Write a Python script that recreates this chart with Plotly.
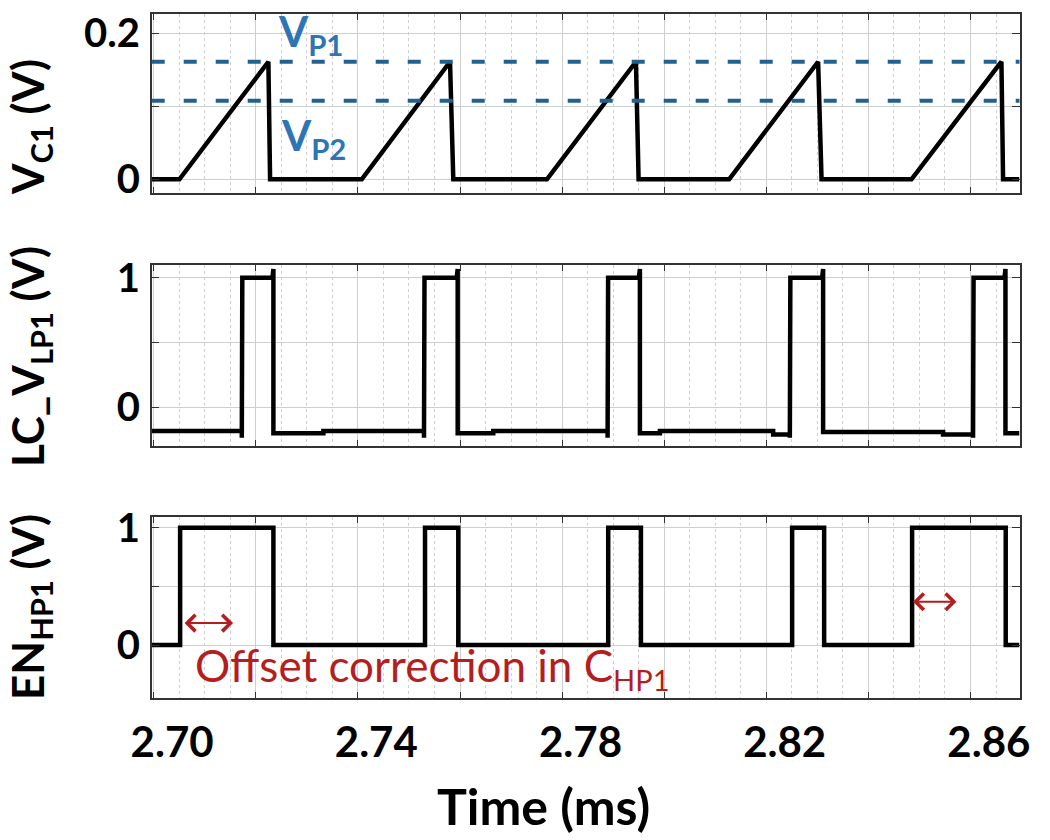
import plotly.graph_objects as go

# ---------------- data ----------------
X_RANGE = [2.6960, 2.8660]                      # ms
TIME_TICKS = [2.70, 2.74, 2.78, 2.82, 2.86]
TIME_TICK_TEXT = ["2.70", "2.74", "2.78", "2.82", "2.86"]
GRID_START = 2.7164
GRID_STEP = 0.02
MINOR_STEP = 0.005

# V_C1 (V) - sawtooth
vc1_t = [2.6960, 2.70143, 2.71886, 2.71919, 2.73715, 2.75444, 2.75508, 2.77343,
         2.79086, 2.79138, 2.80912, 2.82655, 2.82722, 2.84484, 2.86246, 2.86278, 2.8660]
vc1_v = [0, 0, 0.161, 0, 0, 0.161, 0, 0,
         0.161, 0, 0, 0.161, 0, 0, 0.161, 0, 0]
VP1 = 0.161
VP2 = 0.1077

# LC_V_LP1 (V)
lc_t = [2.6960, 2.71365, 2.71365, 2.71375, 2.71965, 2.71984, 2.71984, 2.72963, 2.72963,
        2.74934, 2.74934, 2.74944, 2.75575, 2.75594, 2.75594, 2.76291, 2.76291,
        2.78531, 2.78531, 2.78541, 2.79145, 2.79164, 2.79164, 2.79556, 2.79556,
        2.81774, 2.81774, 2.82101, 2.82101, 2.82111, 2.82734, 2.82753, 2.82753,
        2.85103, 2.85103, 2.85690, 2.85690, 2.85700, 2.86306, 2.86325, 2.86325, 2.8660]
lc_v = [-0.183, -0.183, -0.235, 1.0, 1.0, 1.067, -0.20, -0.20, -0.183,
        -0.183, -0.235, 1.0, 1.0, 1.067, -0.20, -0.20, -0.183,
        -0.183, -0.235, 1.0, 1.0, 1.067, -0.20, -0.20, -0.183,
        -0.183, -0.21, -0.21, -0.235, 1.0, 1.0, 1.067, -0.19,
        -0.19, -0.21, -0.21, -0.235, 1.0, 1.0, 1.067, -0.20, -0.20]

# EN_HP1 (V)
en_t = [2.6960, 2.70157, 2.70157, 2.71984, 2.71984, 2.74954, 2.74954, 2.75606, 2.75606,
        2.78543, 2.78543, 2.79184, 2.79184, 2.82146, 2.82146, 2.82773, 2.82773,
        2.84496, 2.84496, 2.86330, 2.86330, 2.8660]
en_v = [0, 0, 1, 1, 0, 0, 1, 1, 0,
        0, 1, 1, 0, 0, 1, 1, 0,
        0, 1, 1, 0, 0]

# offset-correction arrows: (t_start, t_end, level)
OFFSET_ARROWS = [(2.70215, 2.71194, 0.1876), (2.84484, 2.85365, 0.369)]

# y ticks: labelled and unlabelled (grid only)
Y_TICKS = [[0, 0.2], [0, 1], [0, 1]]
Y_TICKTEXT = [["0", "0.2"], ["0", "1"], ["0", "1"]]
Y_MID_TICKS = [[0.1], [0.5], [0.5]]

# ---------------- styling ----------------
FONT = "Lato"
BLUE = "#2e75b6"
DASH_BLUE = "#22618f"
RED = "#b41e1e"
GRID = "#cfcfcf"
AXLINE = "#333333"

# page has an 8px body margin: figure is 1042x832 placed at (8, 8)
W, H, OFF = 1042, 832, 8


def px_x(x):
    return (x - OFF) / W


def px_y(y):
    return 1 - (y - OFF) / H


X_DOMAIN = [px_x(151.7), px_x(1019.5)]
Y_DOMAINS = [[px_y(192.7), px_y(14)], [px_y(445.7), px_y(265)], [px_y(697.7), px_y(517.3)]]
Y_RANGES = [[-0.0184, 0.2264], [-0.296, 1.098], [-0.449, 1.089]]

fig = go.Figure()
series = [(vc1_t, vc1_v), (lc_t, lc_v), (en_t, en_v)]
for i, (t, v) in enumerate(series):
    n = "" if i == 0 else str(i + 1)
    fig.add_trace(go.Scatter(x=t, y=v, mode="lines", xaxis="x" + n, yaxis="y" + n,
                             line=dict(color="black", width=4.5), showlegend=False,
                             hoverinfo="skip"))

# invisible trace to hold the tick-label axis
fig.add_trace(go.Scatter(x=TIME_TICKS, y=[0] * len(TIME_TICKS), mode="markers",
                         xaxis="x4", yaxis="y3", marker=dict(opacity=0),
                         showlegend=False, hoverinfo="skip"))

layout = dict(
    template="none",
    width=W, height=H,
    margin=dict(l=0, r=0, t=0, b=0, autoexpand=False),
    paper_bgcolor="white", plot_bgcolor="white",
    font=dict(family=FONT, color="black"),
)

for i in range(3):
    n = "" if i == 0 else str(i + 1)
    layout["xaxis" + n] = dict(
        domain=X_DOMAIN, anchor="y" + n, range=X_RANGE, automargin=False,
        tick0=GRID_START, dtick=GRID_STEP, showticklabels=False,
        showgrid=True, gridcolor=GRID, gridwidth=1,
        ticks="inside", ticklen=6, tickcolor=AXLINE,
        showline=True, linecolor=AXLINE, linewidth=1.5, mirror="ticks",
        minor=dict(tick0=GRID_START, dtick=MINOR_STEP, showgrid=True,
                   gridcolor=GRID, griddash="dot", gridwidth=1),
        zeroline=False,
    )
    layout["yaxis" + n] = dict(
        domain=Y_DOMAINS[i], anchor="x" + n, range=Y_RANGES[i], automargin=False,
        tickvals=Y_TICKS[i], ticktext=Y_TICKTEXT[i],
        showgrid=True, gridcolor=GRID, gridwidth=1,
        ticks="inside", ticklen=8, tickcolor=AXLINE,
        minor=dict(tickvals=Y_MID_TICKS[i], showgrid=True, gridcolor=GRID, gridwidth=1,
                   ticks="inside", ticklen=8, tickcolor=AXLINE),
        showline=True, linecolor=AXLINE, linewidth=1.5, mirror="ticks",
        zeroline=False, ticklabelstandoff=2,
        tickfont=dict(family=FONT, size=40, weight="bold", color="black"),
    )

layout["xaxis4"] = dict(
    overlaying="x3", anchor="y3", range=X_RANGE, side="bottom", automargin=False,
    tickvals=TIME_TICKS, ticktext=TIME_TICK_TEXT, showgrid=False,
    ticks="", showline=False, zeroline=False, ticklabelstandoff=16,
    tickfont=dict(family=FONT, size=42, weight="bold", color="black"),
)
fig.update_layout(**layout)

# threshold lines
for val in (VP1, VP2):
    fig.add_shape(type="line", xref="x domain", x0=0, x1=1, yref="y", y0=val, y1=val,
                  line=dict(color=DASH_BLUE, width=4, dash="13px,19px"), layer="above")

ann = []
ann.append(dict(text="V<sub>P1</sub>", x=2.72036, y=0.1985, xref="x", yref="y",
                xanchor="left", yanchor="middle", showarrow=False,
                font=dict(family=FONT, size=42, color=BLUE, weight="bold")))
ann.append(dict(text="V<sub>P2</sub>", x=2.72101, y=0.0565, xref="x", yref="y",
                xanchor="left", yanchor="middle", showarrow=False,
                font=dict(family=FONT, size=42, color=BLUE, weight="bold")))
for (t0, t1, lvl) in OFFSET_ARROWS:
    ann.append(dict(text="", x=t1, y=lvl, ax=t0, ay=lvl, xref="x3", yref="y3",
                    axref="x3", ayref="y3", showarrow=True, arrowside="end+start",
                    arrowhead=4, arrowsize=1.6, arrowwidth=2, arrowcolor=RED,
                    standoff=0, startstandoff=0))
ann.append(dict(text="Offset correction in C<sub><span style='font-size:29px'>HP1</span></sub>",
                x=2.70410, y=-0.196,
                xref="x3", yref="y3", xanchor="left", yanchor="middle", showarrow=False,
                font=dict(family=FONT, size=44, color=RED)))

# axis titles
titles = [("V<sub>C1</sub> (V)", 127), ("LC_V<sub>LP1</sub> (V)", 357), ("EN<sub>HP1</sub> (V)", 607)]
for txt, ypx in titles:
    ann.append(dict(text=txt, x=px_x(30), y=px_y(ypx), xref="paper", yref="paper",
                    textangle=-90, showarrow=False, xanchor="center", yanchor="middle",
                    font=dict(family=FONT, size=44, weight="bold", color="black")))
ann.append(dict(text="Time (ms)", x=px_x(543), y=px_y(806), xref="paper", yref="paper",
                showarrow=False, xanchor="center", yanchor="middle",
                font=dict(family=FONT, size=50, weight="bold", color="black")))

fig.update_layout(annotations=ann)
fig.write_html("out.html")
